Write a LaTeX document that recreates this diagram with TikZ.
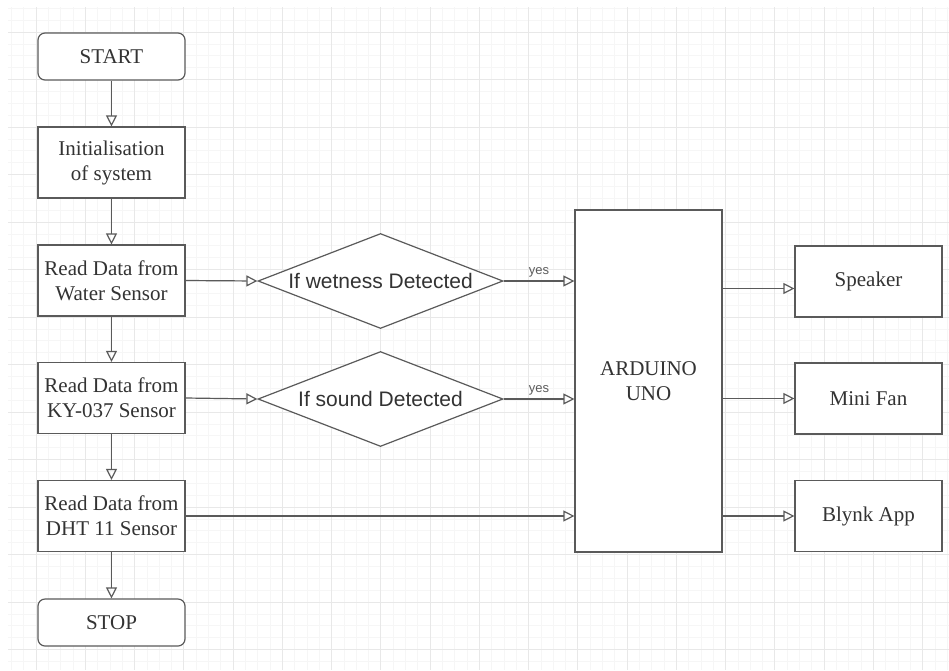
\documentclass[tikz,border=0pt]{standalone}
\usepackage{fontspec}
\setmainfont{Liberation Serif}
\newfontfamily\arialf{Liberation Sans}
\usetikzlibrary{shapes.geometric,arrows.meta}
\definecolor{linec}{HTML}{5A5A5A}
\definecolor{txtc}{HTML}{333333}
\definecolor{gridmaj}{HTML}{E8E8E8}
\definecolor{gridmin}{HTML}{F6F6F6}
\tikzset{
  base/.style={draw=linec, line width=1.2pt, fill=white, text=txtc, align=center,
    font=\fontsize{21}{25}\selectfont, inner sep=0pt},
  term/.style={base, rounded corners=7pt, minimum width=147pt, minimum height=47pt},
  proc/.style={base, minimum width=147pt, minimum height=71pt},
  dec/.style={draw=linec, line width=1.2pt, fill=white, diamond, inner sep=0pt,
    minimum width=245pt, minimum height=95pt},
  dectext/.style={text=txtc, font=\arialf\fontsize{21}{25}\selectfont, inner sep=0pt},
  arr/.style={draw=linec, line width=1.2pt, -{Triangle[open,length=11pt,width=11pt]}},
  yeslab/.style={text=txtc!80, font=\arialf\fontsize{13}{15}\selectfont, inner sep=3pt}
}
\begin{document}
\begin{tikzpicture}[x=1pt,y=-1pt]
\useasboundingbox (0,0) rectangle (949,670);
\fill[white] (0,0) rectangle (949,670);
% grid
\begin{scope}
\clip (8,7) rectangle (949,670);
\foreach \i in {-3,...,80} \draw[gridmin, line width=0.6pt] ({36+12.3125*\i},0) -- ({36+12.3125*\i},670);
\foreach \i in {-3,...,60} \draw[gridmin, line width=0.6pt] (0,{32+11.875*\i}) -- (949,{32+11.875*\i});
\foreach \i in {-1,...,20} \draw[gridmaj, line width=0.9pt] ({36+49.25*\i},0) -- ({36+49.25*\i},670);
\foreach \i in {-1,...,15} \draw[gridmaj, line width=0.9pt] (0,{32+47.5*\i}) -- (949,{32+47.5*\i});
\end{scope}
% left column
\node[term] (start) at (111.5,56.5) {START};
\node[proc] (init) at (111.5,162.5) {Initialisation\\of system};
\node[proc] (water) at (111.5,280.5) {Read Data from\\Water Sensor};
\node[proc] (ky) at (111.5,398) {Read Data from\\KY-037 Sensor};
\node[proc] (dht) at (111.5,516) {Read Data from\\DHT 11 Sensor};
\node[term] (stop) at (111.5,622.5) {STOP};
% decisions
\node[dec] (d1) at (380.5,281) {};
\node[dectext] (d1t) at (d1.center) {If wetness Detected};
\node[dec] (d2) at (380.5,399) {};
\node[dectext] (d2t) at (d2.center) {If sound Detected};
% arduino
\node[base, minimum width=147pt, minimum height=342pt] (ard) at (648.5,381) {ARDUINO\\UNO};
% outputs
\node[proc] (spk) at (868.5,281.5) {Speaker};
\node[proc] (fan) at (868.5,398.5) {Mini Fan};
\node[proc] (blynk) at (868.5,516) {Blynk App};
% connectors
\draw[arr] (start) -- (init);
\draw[arr] (init) -- (water);
\draw[arr] (water) -- (ky);
\draw[arr] (ky) -- (dht);
\draw[arr] (dht) -- (stop);
\draw[arr] (water.east) -- (d1.west);
\draw[arr] (ky.east) -- (d2.west);
\draw[arr] (d1.east) -- node[yeslab, above] {yes} (d1.east -| ard.west);
\draw[arr] (d2.east) -- node[yeslab, above] {yes} (d2.east -| ard.west);
\draw[arr] (dht.east) -- (dht.east -| ard.west);
\draw[arr] ([yshift=-7pt]ard.east |- spk.west) -- ([yshift=-7pt]spk.west);
\draw[arr] (ard.east |- fan.west) -- (fan.west);
\draw[arr] (ard.east |- blynk.west) -- (blynk.west);
\end{tikzpicture}
\end{document}
